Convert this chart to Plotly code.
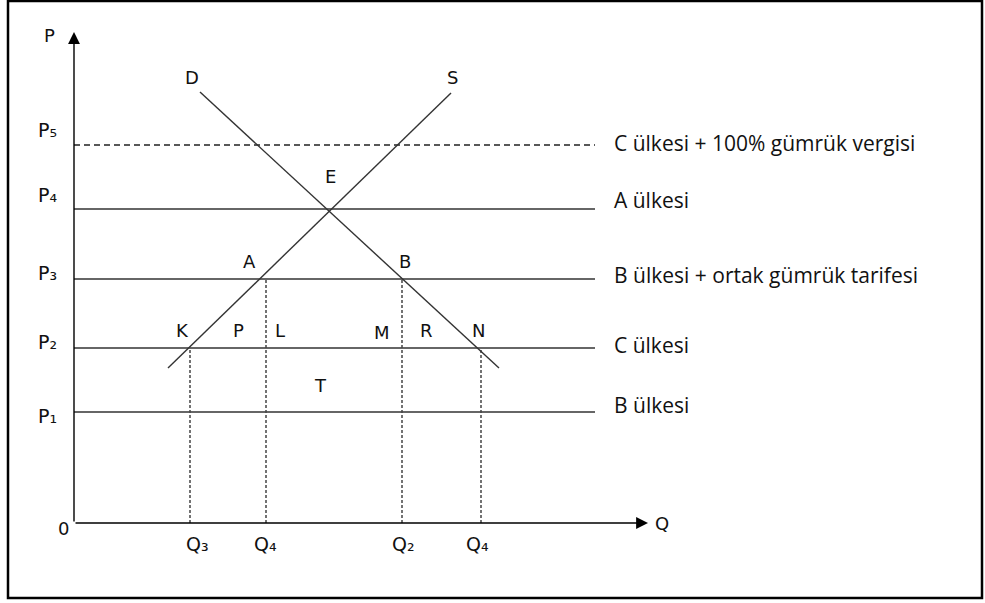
import plotly.graph_objects as go

# price levels (P1..P5) and quantity marks
price_names = ["P₁", "P₂", "P₃", "P₄", "P₅"]
price_levels = [11.1, 17.5, 24.4, 31.4, 37.8]
price_labels = ["B ülkesi", "C ülkesi", "B ülkesi + ortak gümrük tarifesi",
                "A ülkesi", "C ülkesi + 100% gümrük vergisi"]
line_end = 52.1

quantity_names = ["Q₃", "Q₄", "Q₂", "Q₄"]
quantity_levels = [11.6, 19.2, 32.8, 40.7]
quantity_tops = [17.5, 24.4, 24.4, 17.5]   # dashed drop lines go up to these prices

# supply and demand curves (end points)
supply_q = [9.4, 37.7]
supply_p = [15.5, 43.0]
demand_q = [12.6, 42.5]
demand_p = [43.1, 15.5]

axis_q_max = 57.4
axis_p_max = 49.1

# point / area letters
letters = ["D", "S", "E", "A", "B", "K", "P", "L", "M", "R", "N", "T"]
letter_q = [11.8, 37.8, 25.6, 17.5, 33.1, 10.8, 16.4, 20.6, 30.8, 35.2, 40.4, 24.6]
letter_p = [44.6, 44.6, 34.7, 26.2, 26.2, 19.3, 19.3, 19.3, 19.1, 19.3, 19.3, 13.8]

LINE = "#333333"
fig = go.Figure()

# horizontal price lines
for name, p in zip(price_names, price_levels):
    dashed = name == "P₅"
    fig.add_trace(go.Scatter(x=[0, line_end], y=[p, p], mode="lines",
                             line=dict(color="#222222" if dashed else LINE,
                                       width=1.4, dash="6px,4px" if dashed else "solid"),
                             hoverinfo="skip"))

# vertical dashed lines down to the Q axis
for q, top in zip(quantity_levels, quantity_tops):
    fig.add_trace(go.Scatter(x=[q, q], y=[0, top], mode="lines",
                             line=dict(color="#444444", width=1.5, dash="3px,2px"),
                             hoverinfo="skip"))

fig.add_trace(go.Scatter(x=supply_q, y=supply_p, mode="lines",
                         line=dict(color=LINE, width=1.4), hoverinfo="skip"))
fig.add_trace(go.Scatter(x=demand_q, y=demand_p, mode="lines",
                         line=dict(color=LINE, width=1.4), hoverinfo="skip"))

ann = []
# axes with arrows
for tip in [(0, axis_p_max), (axis_q_max, 0)]:
    ann.append(dict(x=tip[0], y=tip[1], ax=0, ay=0, xref="x", yref="y",
                    axref="x", ayref="y", showarrow=True, arrowhead=2,
                    arrowsize=1.7, arrowwidth=1.4, arrowcolor="black", text=""))

small = dict(family="DejaVu Sans", size=18, color="#111111")
tick = dict(family="DejaVu Sans", size=19, color="#111111")
big = dict(family="Open Sans", size=21, color="#111111")

ann.append(dict(x=-2.5, y=48.8, text="P", showarrow=False, font=small))
ann.append(dict(x=-1.1, y=-0.5, text="0", showarrow=False, font=small))
ann.append(dict(x=58.8, y=0, text="Q", showarrow=False, font=small))

price_label_p = [10.7, 18.1, 25.0, 32.8, 39.3]
for name, lp in zip(price_names, price_label_p):
    ann.append(dict(x=-2.7, y=lp, text=name, showarrow=False, font=tick))

for name, q in zip(quantity_names, [12.3, 19.1, 32.9, 40.3]):
    ann.append(dict(x=q, y=-2.1, text=name, showarrow=False, font=tick))

for t, q, p in zip(letters, letter_q, letter_p):
    ann.append(dict(x=q, y=p, text=t, showarrow=False, font=small))

right_label_p = [11.8, 17.8, 24.8, 32.3, 38.0]
for t, p in zip(price_labels, right_label_p):
    ann.append(dict(x=53.8, y=p, text=t, showarrow=False, xanchor="left", font=big))

fig.update_layout(
    width=985, height=603,
    margin=dict(l=0, r=0, t=0, b=0),
    paper_bgcolor="white", plot_bgcolor="white",
    showlegend=False,
    xaxis=dict(range=[-7.4, 91.1], visible=False, fixedrange=True),
    yaxis=dict(range=[-8.0, 52.3], visible=False, fixedrange=True),
    annotations=ann,
    shapes=[dict(type="rect", xref="paper", yref="paper",
                 x0=8 / 985, x1=982 / 985, y0=1 - 598 / 603, y1=1 - 1 / 603,
                 line=dict(color="black", width=2.5))],
)

# the page body has a default 8px margin; drop it so the figure fills the window
fig.write_html("out.html", config={"displayModeBar": False},
               post_script="document.body.style.margin='0';")
